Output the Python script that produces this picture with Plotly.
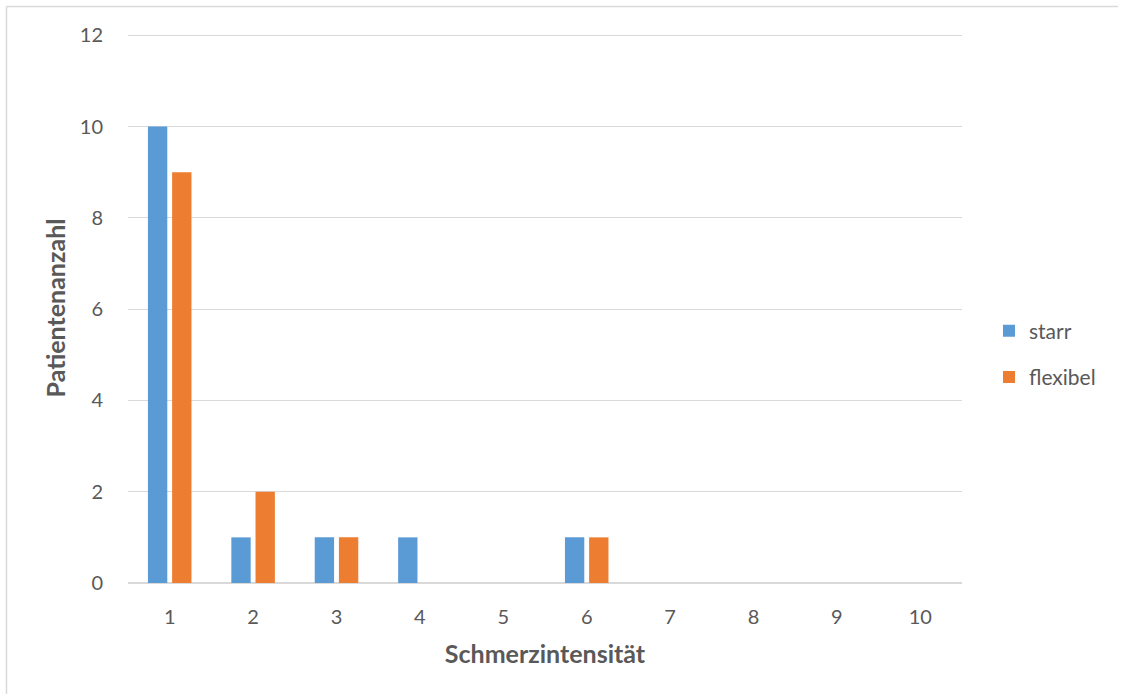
import plotly.graph_objects as go

# Pain intensity scale and patient counts per group
intensitaet = [1, 2, 3, 4, 5, 6, 7, 8, 9, 10]
starr = [10, 1, 1, 1, 0, 1, 0, 0, 0, 0]
flexibel = [9, 2, 1, 0, 0, 1, 0, 0, 0, 0]
y_ticks = [0, 2, 4, 6, 8, 10, 12]

FONT = "Lato"
TXT = "#595959"
GRID = "#d9d9d9"

fig = go.Figure()
fig.add_trace(go.Bar(name="starr", x=intensitaet, y=starr,
                     marker=dict(color="#5B9BD5", line=dict(width=0)),
                     legendgroup="a"))
fig.add_trace(go.Bar(name="flexibel", x=intensitaet, y=flexibel,
                     marker=dict(color="#ED7D31", line=dict(width=0)),
                     legendgroup="b"))

L, R, T, B = 128, 160, 33, 115
W, H = 1122, 698
pw, ph = W - L - R, H - T - B

fig.update_layout(
    width=W, height=H,
    margin=dict(l=L, r=R, t=T, b=B),
    paper_bgcolor="white", plot_bgcolor="white",
    barmode="group", bargap=0.42, bargroupgap=0.2,
    font=dict(family=FONT, color=TXT, size=20),
    showlegend=True,
    legend=dict(x=(989 - L) / pw, y=(H - B - 354) / ph, xanchor="left", yanchor="middle",
                font=dict(size=21, color=TXT), tracegroupgap=16,
                bgcolor="rgba(0,0,0,0)", itemsizing="constant"),
    xaxis=dict(
        type="category", tickvals=intensitaet, ticktext=[str(v) for v in intensitaet],
        showgrid=False, showline=False, zeroline=False,
        ticks="outside", ticklen=16, tickcolor="rgba(0,0,0,0)",
        tickfont=dict(size=20, color=TXT),
        title=dict(text="<b>Schmerzintensität</b>", standoff=18,
                   font=dict(size=25, color=TXT)),
    ),
    yaxis=dict(
        range=[0, 12.05], tickvals=y_ticks, showgrid=True, gridcolor=GRID, gridwidth=1,
        zeroline=True, zerolinecolor=GRID, zerolinewidth=1.5, showline=False,
        ticks="outside", ticklen=20, tickcolor="rgba(0,0,0,0)",
        tickfont=dict(size=20, color=TXT),
        title=dict(text="<b>Patientenanzahl</b>", standoff=7,
                   font=dict(size=25, color=TXT)),
    ),
)

# Light frame along the left and top edges of the chart area
bx = (6.5 - L) / pw
by = (H - B - 6.5) / ph
fig.add_shape(type="line", xref="paper", yref="paper", x0=bx, x1=(W - 4 - L) / pw,
              y0=by, y1=by, line=dict(color="#d9d9d9", width=1.5))
fig.add_shape(type="line", xref="paper", yref="paper", x0=bx, x1=bx,
              y0=by, y1=-(B - 4) / ph, line=dict(color="#d9d9d9", width=1.5))

fig.write_html("out.html")
